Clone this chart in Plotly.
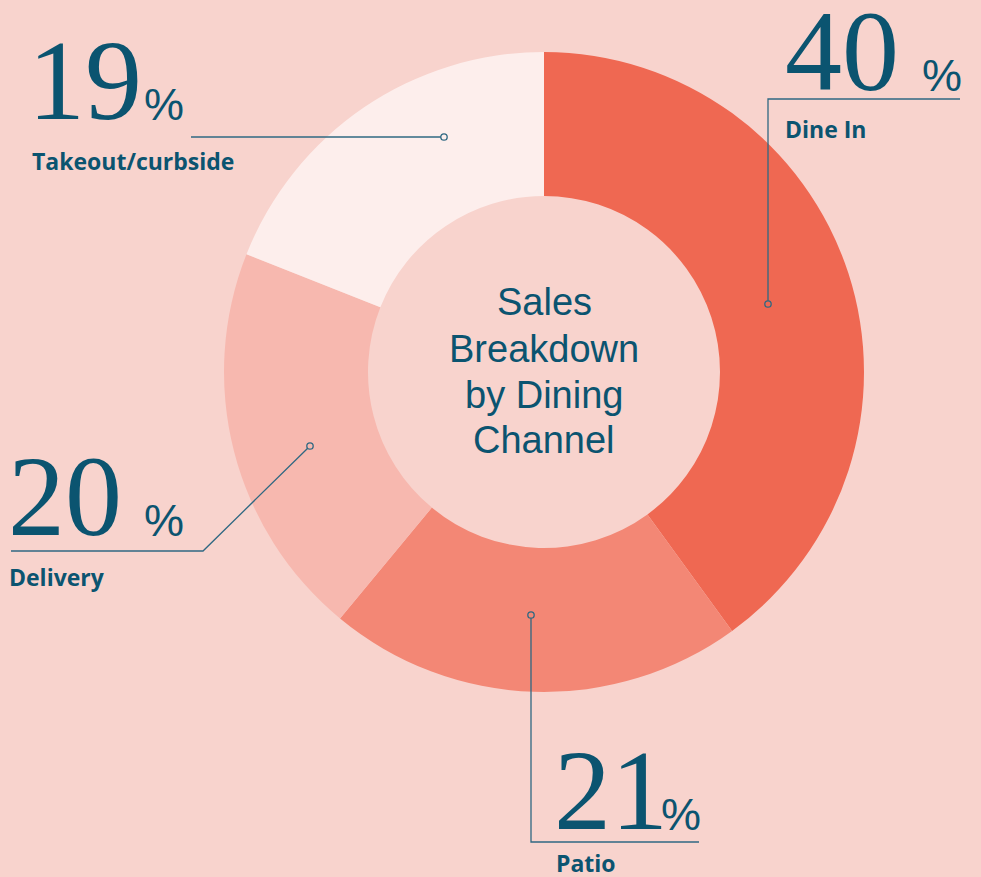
import plotly.graph_objects as go

W, H = 981, 877

channels = ["Dine In", "Patio", "Delivery", "Takeout/curbside"]
shares = [40, 21, 20, 19]
slice_colors = ["#EF6852", "#F38775", "#F7B8AF", "#FDEEEC"]
center_lines = ["Sales", "Breakdown", "by Dining", "Channel"]

BG = "#F8D3CD"
TEAL = "#0B5470"
LINE = "#2F6882"

def px(x):
    return x / W

def py(y):
    return (H - y) / H

fig = go.Figure()
fig.add_trace(go.Pie(
    labels=channels,
    values=shares,
    marker=dict(colors=slice_colors, line=dict(width=0)),
    hole=0.55,
    sort=False,
    direction="clockwise",
    rotation=0,
    textinfo="none",
    hoverinfo="label+percent",
    showlegend=False,
    domain=dict(x=[px(224), px(864)], y=[py(692), py(52)]),
))

# leader-line layout (pixel paths), dot position first
leaders = {
    "Dine In": [(768, 304), (768, 99), (960, 99)],
    "Patio": [(531, 615), (531, 842), (699, 842)],
    "Delivery": [(310, 446), (203, 551), (11, 551)],
    "Takeout/curbside": [(444, 137), (191, 137)],
}
# label layout: (x_left of number, baseline y of number, x of %, label x, label baseline y)
label_pos = {
    "Dine In": (783, 93, 920, 783, 141),
    "Patio": (552, 832, 659, 554, 875),
    "Delivery": (6, 538, 142, 7, 589),
    "Takeout/curbside": (26, 122, 142, 30, 173),
}

shapes = []
annotations = []
for name, val, col in zip(channels, shares, slice_colors):
    pts = leaders[name]
    path = "M " + " L ".join(f"{px(x)},{py(y)}" for x, y in pts)
    shapes.append(dict(type="path", path=path, xref="paper", yref="paper",
                       line=dict(color=LINE, width=1.3)))
    dx, dy = pts[0]
    r = 3.2
    shapes.append(dict(type="circle", xref="paper", yref="paper",
                       x0=px(dx - r), x1=px(dx + r), y0=py(dy + r), y1=py(dy - r),
                       line=dict(color=LINE, width=1.3), fillcolor=col))
    nx, nby, pcx, lx, lby = label_pos[name]
    annotations.append(dict(
        x=px(nx), y=py(nby + 24), xref="paper", yref="paper",
        xanchor="left", yanchor="bottom", showarrow=False,
        text=f"{val}",
        font=dict(family="Liberation Serif", size=114, color=TEAL),
    ))
    annotations.append(dict(
        x=px(pcx), y=py(nby + 10), xref="paper", yref="paper",
        xanchor="left", yanchor="bottom", showarrow=False,
        text="%",
        font=dict(family="Liberation Sans", size=45, color=TEAL),
    ))
    annotations.append(dict(
        x=px(lx), y=py(lby + 6), xref="paper", yref="paper",
        xanchor="left", yanchor="bottom", showarrow=False,
        text=f"<b>{name}</b>",
        font=dict(family="Open Sans", size=23, color=TEAL),
    ))

center_y = [302, 349, 395, 440]
for line_text, cy in zip(center_lines, center_y):
    annotations.append(dict(
        x=px(544), y=py(cy), xref="paper", yref="paper",
        xanchor="center", yanchor="middle", showarrow=False,
        text=line_text,
        font=dict(family="Liberation Sans", size=38, color=TEAL),
    ))

fig.update_layout(
    width=W, height=H,
    margin=dict(l=0, r=0, t=0, b=0),
    paper_bgcolor=BG, plot_bgcolor=BG,
    shapes=shapes, annotations=annotations,
)

fig.write_html(
    "out.html",
    config={"displayModeBar": False},
    post_script="document.body.style.margin='0';document.body.style.overflow='hidden';document.body.style.background='" + BG + "';",
)
